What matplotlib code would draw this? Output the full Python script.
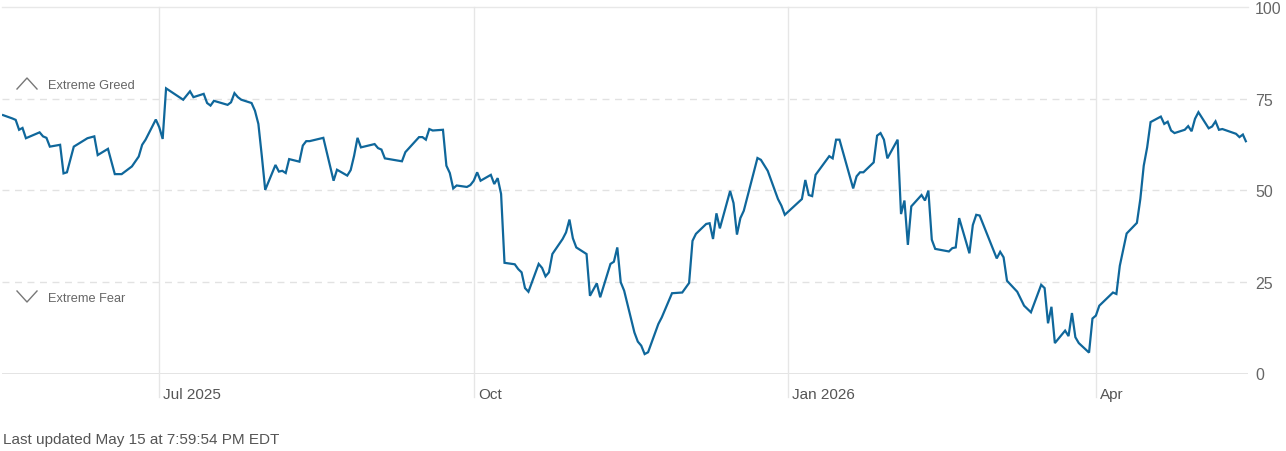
import matplotlib
matplotlib.use("Agg")
import matplotlib.pyplot as plt
import matplotlib.dates as mdates
import matplotlib.transforms as mtransforms
import pandas as pd

plt.rcParams['font.family'] = ['Liberation Sans', 'DejaVu Sans']

dates = [
    "2025-05-16", "2025-05-19", "2025-05-20", "2025-05-21", "2025-05-22", "2025-05-23",
    "2025-05-27", "2025-05-28", "2025-05-29", "2025-05-30", "2025-06-02", "2025-06-03",
    "2025-06-04", "2025-06-06", "2025-06-10", "2025-06-12", "2025-06-13", "2025-06-16",
    "2025-06-18", "2025-06-20", "2025-06-23", "2025-06-25", "2025-06-26", "2025-06-27",
    "2025-06-30", "2025-07-01", "2025-07-02", "2025-07-03", "2025-07-08", "2025-07-10",
    "2025-07-11", "2025-07-14", "2025-07-15", "2025-07-16", "2025-07-17", "2025-07-21",
    "2025-07-22", "2025-07-23", "2025-07-24", "2025-07-25", "2025-07-28", "2025-07-29",
    "2025-07-30", "2025-07-31", "2025-08-01", "2025-08-04", "2025-08-05", "2025-08-06",
    "2025-08-07", "2025-08-08", "2025-08-11", "2025-08-12", "2025-08-13", "2025-08-14",
    "2025-08-18", "2025-08-21", "2025-08-22", "2025-08-25", "2025-08-26", "2025-08-27",
    "2025-08-28", "2025-08-29", "2025-09-02", "2025-09-03", "2025-09-04", "2025-09-05",
    "2025-09-10", "2025-09-11", "2025-09-15", "2025-09-16", "2025-09-17", "2025-09-18",
    "2025-09-19", "2025-09-22", "2025-09-23", "2025-09-24", "2025-09-25", "2025-09-26",
    "2025-09-29", "2025-09-30", "2025-10-01", "2025-10-02", "2025-10-03", "2025-10-06",
    "2025-10-07", "2025-10-08", "2025-10-09", "2025-10-10", "2025-10-13", "2025-10-14",
    "2025-10-15", "2025-10-16", "2025-10-17", "2025-10-20", "2025-10-21", "2025-10-22",
    "2025-10-23", "2025-10-24", "2025-10-27", "2025-10-28", "2025-10-29", "2025-10-30",
    "2025-10-31", "2025-11-03", "2025-11-04", "2025-11-06", "2025-11-07", "2025-11-10",
    "2025-11-11", "2025-11-12", "2025-11-13", "2025-11-14", "2025-11-17", "2025-11-18",
    "2025-11-19", "2025-11-20", "2025-11-21", "2025-11-24", "2025-11-25", "2025-11-28",
    "2025-12-01", "2025-12-03", "2025-12-04", "2025-12-05", "2025-12-08", "2025-12-09",
    "2025-12-10", "2025-12-11", "2025-12-12", "2025-12-15", "2025-12-16", "2025-12-17",
    "2025-12-18", "2025-12-19", "2025-12-23", "2025-12-24", "2025-12-26", "2025-12-29",
    "2025-12-30", "2025-12-31", "2026-01-05", "2026-01-06", "2026-01-07", "2026-01-08",
    "2026-01-09", "2026-01-13", "2026-01-14", "2026-01-15", "2026-01-16", "2026-01-20",
    "2026-01-21", "2026-01-22", "2026-01-23", "2026-01-26", "2026-01-27", "2026-01-28",
    "2026-01-29", "2026-01-30", "2026-02-02", "2026-02-03", "2026-02-04", "2026-02-05",
    "2026-02-06", "2026-02-09", "2026-02-10", "2026-02-11", "2026-02-12", "2026-02-13",
    "2026-02-17", "2026-02-18", "2026-02-19", "2026-02-20", "2026-02-23", "2026-02-24",
    "2026-02-25", "2026-02-26", "2026-03-03", "2026-03-04", "2026-03-05", "2026-03-06",
    "2026-03-09", "2026-03-11", "2026-03-13", "2026-03-16", "2026-03-17", "2026-03-18",
    "2026-03-19", "2026-03-20", "2026-03-23", "2026-03-24", "2026-03-25", "2026-03-26",
    "2026-03-27", "2026-03-30", "2026-03-31", "2026-04-01", "2026-04-02", "2026-04-06",
    "2026-04-07", "2026-04-08", "2026-04-10", "2026-04-13", "2026-04-14", "2026-04-15",
    "2026-04-16", "2026-04-17", "2026-04-20", "2026-04-21", "2026-04-22", "2026-04-23",
    "2026-04-24", "2026-04-27", "2026-04-28", "2026-04-29", "2026-04-30", "2026-05-01",
    "2026-05-04", "2026-05-05", "2026-05-06", "2026-05-07", "2026-05-08", "2026-05-12",
    "2026-05-13", "2026-05-14", "2026-05-15",
]

index_values = [
    70.6, 69.6, 69.2, 66.5, 67.0, 64.2,
    65.8, 64.7, 64.3, 61.9, 62.4, 54.6,
    54.9, 61.9, 64.2, 64.7, 59.6, 61.3,
    54.4, 54.4, 56.5, 59.2, 62.4, 63.8,
    69.3, 67.2, 64.0, 77.8, 74.7, 77.0,
    75.4, 76.3, 73.8, 73.1, 74.4, 73.3,
    74.0, 76.5, 75.4, 74.7, 73.8, 71.7,
    68.1, 59.4, 50.1, 56.9, 55.1, 55.3,
    54.7, 58.5, 57.8, 62.2, 63.4, 63.4,
    64.3, 52.6, 55.6, 54.0, 55.5, 59.4,
    64.3, 61.7, 62.6, 61.5, 61.1, 58.7,
    57.9, 60.4, 64.5, 64.5, 63.8, 66.7,
    66.3, 66.5, 56.7, 54.7, 50.5, 51.3,
    50.9, 51.4, 52.6, 54.9, 52.6, 54.2,
    51.7, 53.3, 49.0, 30.2, 29.8, 28.5,
    27.6, 23.3, 22.3, 29.9, 28.8, 26.5,
    27.6, 32.6, 36.7, 38.5, 42.0, 36.9,
    34.4, 32.6, 21.2, 24.6, 20.8, 29.9,
    30.5, 34.4, 24.9, 22.6, 11.2, 8.7,
    7.6, 5.3, 5.8, 13.5, 15.3, 21.9,
    22.1, 24.7, 36.2, 38.1, 40.8, 41.0,
    36.7, 43.7, 39.6, 49.8, 46.5, 37.9,
    42.4, 44.4, 58.8, 58.3, 55.3, 47.6,
    45.8, 43.3, 47.6, 52.8, 48.7, 48.4,
    54.2, 59.3, 58.7, 63.8, 63.8, 50.5,
    53.8, 54.9, 54.9, 57.6, 64.9, 65.6,
    63.8, 58.7, 63.8, 43.5, 47.2, 35.1,
    45.6, 48.7, 47.2, 49.9, 36.5, 34.0,
    33.3, 34.2, 34.4, 42.4, 32.8, 40.5,
    43.3, 43.1, 31.4, 33.2, 31.7, 25.3,
    22.3, 18.5, 16.7, 24.2, 23.3, 13.7,
    18.2, 8.3, 11.7, 10.2, 16.5, 9.9,
    8.3, 5.7, 15.0, 15.8, 18.5, 22.1,
    21.7, 29.4, 38.2, 41.1, 47.6, 56.7,
    61.7, 68.6, 70.1, 68.1, 68.7, 66.3,
    65.6, 66.5, 67.5, 66.1, 69.5, 71.3,
    66.9, 67.4, 68.8, 66.5, 66.7, 65.4,
    64.5, 65.2, 63.1,
]

x_tick_dates = ["2025-07-01", "2025-10-01", "2026-01-01", "2026-04-01"]
x_tick_labels = ["Jul 2025", "Oct", "Jan 2026", "Apr"]
y_ticks = [0, 25, 50, 75, 100]
y_tick_labels = ["0", "25", "50", "75", "100"]
x_range = ["2025-05-16", "2026-05-15 12:00"]

W, H = 1286, 452
fig = plt.figure(figsize=(W / 100, H / 100), dpi=100)
ax = fig.add_axes([2 / W, (H - 374.5) / H, 1246 / W, 366.5 / H])

x = pd.to_datetime(dates)
xt = pd.to_datetime(x_tick_dates)

ax.set_xlim(pd.to_datetime(x_range[0]), pd.to_datetime(x_range[1]))
ax.set_ylim(0, 100)

for s in ax.spines.values():
    s.set_visible(False)

# horizontal grid
for yv in y_ticks:
    if yv == 0:
        ax.axhline(yv, color="#dcdcdc", lw=1.8, zorder=1)
    elif yv == 100:
        ax.axhline(yv, color="#e8e8e8", lw=1.0, zorder=1, clip_on=False)
    else:
        ax.axhline(yv, color="#e2e2e2", lw=1.0, ls=(0, (5, 4)), zorder=1)

# vertical grid (extends into label area)
for d in xt:
    ax.axvline(d, ymin=-0.064, ymax=1.0, color="#e6e6e6", lw=1.0,
               zorder=1, clip_on=False)

ax.plot(x, index_values, color="#0f679b", lw=1.6, zorder=3,
        solid_joinstyle="miter", solid_capstyle="butt")

# x tick labels
ax.set_xticks(xt)
ax.set_xticklabels(x_tick_labels, ha="left", fontsize=11, color="#555555")
ax.tick_params(axis="x", length=0, pad=9.5)
off = mtransforms.ScaledTranslation(3 / 72, 0, fig.dpi_scale_trans)
for lbl in ax.get_xticklabels():
    lbl.set_transform(lbl.get_transform() + off)

# y tick labels on right
ax.yaxis.tick_right()
ax.set_yticks(y_ticks)
ax.set_yticklabels(y_tick_labels, fontsize=11.5, color="#666666")
ax.tick_params(axis="y", length=0, pad=5)

# Extreme greed / fear annotations with chevrons
ax_t = ax.transAxes
def px2ax(px, py):
    return ((px - 2) / 1246, (374.5 - py) / 366.5)

up = [px2ax(17, 90), px2ax(27, 79), px2ax(37, 90)]
dn = [px2ax(17, 292), px2ax(27, 303), px2ax(37, 292)]
ax.plot([p[0] for p in up], [p[1] for p in up], color="#777777", lw=1.0,
        transform=ax_t, clip_on=False)
ax.plot([p[0] for p in dn], [p[1] for p in dn], color="#777777", lw=1.0,
        transform=ax_t, clip_on=False)
gx, gy = px2ax(48, 86)
ax.text(gx, gy, "Extreme Greed", transform=ax_t, fontsize=9.2,
        color="#666666", va="center", ha="left")
fx, fy = px2ax(48, 299)
ax.text(fx, fy, "Extreme Fear", transform=ax_t, fontsize=9.2,
        color="#666666", va="center", ha="left")

fig.text(3 / W, 1 - 440 / H, "Last updated May 15 at 7:59:54 PM EDT",
         fontsize=11, color="#555555", va="center", ha="left")

fig.savefig("out.png", dpi=100)
